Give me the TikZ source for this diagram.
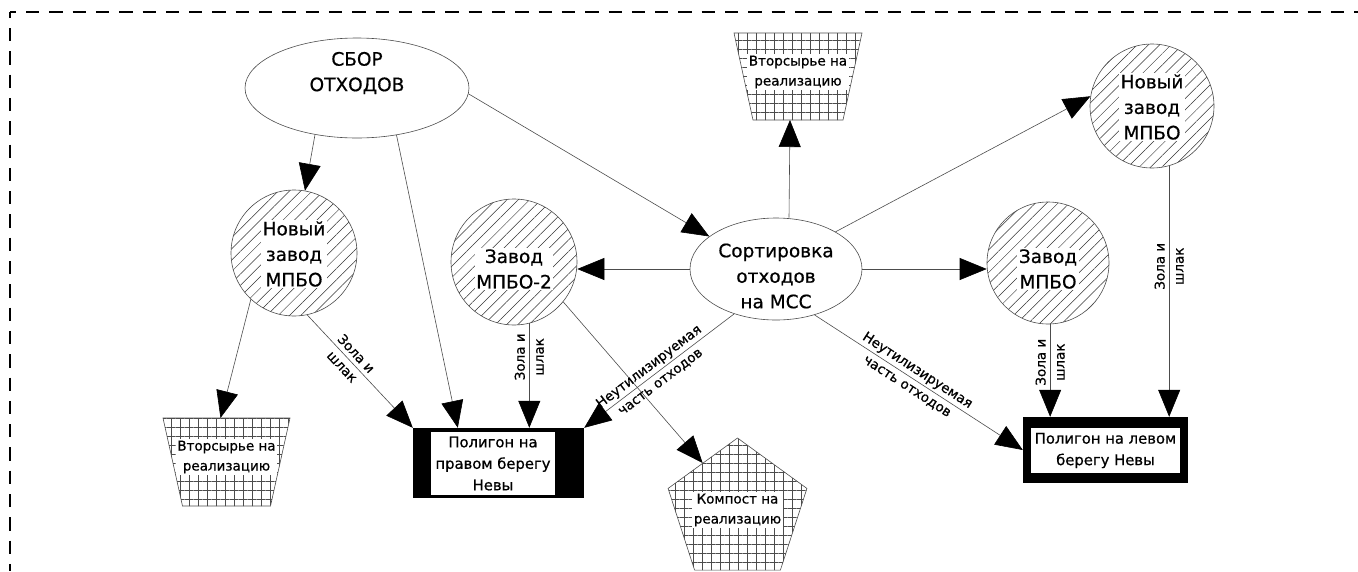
\documentclass[tikz,border=0pt]{standalone}
\usepackage{fontspec}
\setmainfont{DejaVu Sans}[FakeBold=0.6]
\usetikzlibrary{arrows.meta,shapes.geometric,patterns.meta,calc}
\tikzset{
  conn/.style={draw=black!70, line width=0.6pt, -{Triangle[length=27pt,width=22pt,color=black,fill=black]}},
  hatched/.style={circle, draw=black!70, line width=0.6pt, inner sep=0pt,
    pattern={Lines[angle=45,distance=8pt,line width=0.5pt]}, pattern color=black!80},
  ell/.style={ellipse, draw=black!70, line width=0.6pt, inner sep=0pt},
  gridfill/.style={draw=black!70, line width=0.6pt,
    pattern={Hatch[angle=0,distance=9pt,line width=0.4pt]}, pattern color=black!70},
  bigtxt/.style={align=center, font=\fontsize{18.5}{25.5}\selectfont, inner sep=1.5pt},
  boxtxt/.style={align=center, font=\fontsize{14.8}{21.5}\selectfont, inner sep=0pt},
  smalltxt/.style={align=center, font=\fontsize{13.5}{20}\selectfont, inner sep=1.5pt, fill=white},
  lbl/.style={align=center, font=\fontsize{13.5}{19}\selectfont, inner sep=0pt},
  bbox/.style={inner sep=0pt, outer sep=0pt},
  frame/.style={line width=2.2pt, dash pattern=on 13.3pt off 10pt, dash phase=7.3pt}
}
\begin{document}
\begin{tikzpicture}[x=1pt,y=-1pt]
\useasboundingbox (0,0) rectangle (1358,571);
% frame
\coordinate (fc) at (10,12);
\coordinate (fr) at (1358,12);
\coordinate (fb) at (10,571);
\draw[frame] (fc) -- (fr);
\draw[frame] (fc) -- (fb);

% ellipses
\node[ell, minimum width=224pt, minimum height=100pt] (sbor) at (357,88) {};
\node[bigtxt] (sbort) at (357,73) {СБОР\\ОТХОДОВ};
\node[ell, minimum width=172pt, minimum height=102pt] (sort) at (776,269) {};
\node[bigtxt] (sortt) at (776,276) {Сортировка\\отходов\\на МСС};

% circles
\node[hatched, minimum size=126pt] (n1) at (294,253) {};
\node[bigtxt, fill=white] (n1t) at (294,254) {Новый\\завод\\МПБО};
\node[hatched, minimum size=126pt] (n2) at (514,262) {};
\node[bigtxt, fill=white] (n2t) at (514,269) {Завод\\МПБО-2};
\node[hatched, minimum size=122pt] (n3) at (1048,263) {};
\node[bigtxt, fill=white] (n3t) at (1048,269) {Завод\\МПБО};
\node[hatched, minimum size=124pt] (n4) at (1152,106) {};
\node[bigtxt, fill=white] (n4t) at (1152,107) {Новый\\завод\\МПБО};

% trapezoids
\node[bbox, minimum width=128pt, minimum height=87pt] (t1) at (798,76.5) {};
\draw[gridfill] (t1.north west) -- (t1.north east) -- ([xshift=-19pt]t1.south east) -- ([xshift=19pt]t1.south west) -- cycle;
\node[smalltxt] (t1t) at (798,72) {Вторсырье на\\реализацию};
\node[bbox, minimum width=127pt, minimum height=88pt] (t2) at (226.5,462) {};
\draw[gridfill] (t2.north west) -- (t2.north east) -- ([xshift=-19.5pt]t2.south east) -- ([xshift=19.5pt]t2.south west) -- cycle;
\node[smalltxt] (t2t) at (226.5,457) {Вторсырье на\\реализацию};

% pentagon
\node[regular polygon, regular polygon sides=5, minimum size=146pt, inner sep=0pt, gridfill] (komp) at (737.5,511) {};
\node[smalltxt] (kompt) at (737.5,510) {Компост на\\реализацию};

% landfills
\node[fill=black, minimum width=171pt, minimum height=70pt, inner sep=0pt] (polR) at (498.5,463) {};
\node[fill=white, minimum width=124pt, minimum height=63pt, boxtxt] (polRt) at (493,463.5) {Полигон на\\правом берегу\\Невы};
\node[fill=black, minimum width=165pt, minimum height=66pt, inner sep=0pt] (polL) at (1105.5,450) {};
\node[fill=white, minimum width=149pt, minimum height=45pt, boxtxt] (polLt) at (1105.5,450.5) {Полигон на левом\\берегу Невы};

% connectors
\draw[conn] (sbor.228) -- (n1.80);
\draw[conn] (sbor.-50) -- ([xshift=45pt]polR.north west);
\draw[conn] (sbor.-3) -- (sort.154);
\draw[conn] (n1.227) -- ([xshift=-6pt]t2.north);
\draw[conn] (n1.-78) -- node[lbl, sloped, pos=0.4] {Зола и\\шлак} (polR.north west);
\draw[conn] (n2.-76) -- node[lbl, rotate=90, pos=0.32] {Зола и\\шлак} (n2.-76 |- polR.north);
\draw[conn] (n2.-39) -- (komp.side 1);
\draw[conn] (sort.west) -- (sort.west -| n2.east);
\draw[conn] ([xshift=13pt]sort.north) -- ([xshift=-8pt]t1.south);
\draw[conn] (sort.-133) -- node[lbl, sloped, pos=0.53] {Неутилизируемая\\часть отходов} (polR.north east);
\draw[conn] (sort.32.6) -- (n4.171);
\draw[conn] (sort.east) -- (sort.east -| n3.west);
\draw[conn] (sort.-50) -- node[lbl, sloped, pos=0.47] {Неутилизируемая\\часть отходов} (polL.west);
\draw[conn] (n3.-88) -- node[lbl, rotate=90, pos=0.41] {Зола и\\шлак} (n3.-88 |- polL.north);
\draw[conn] (n4.-74) -- node[lbl, rotate=90, pos=0.4] {Зола и\\шлак} (n4.-74 |- polL.north);
\end{tikzpicture}
\end{document}
